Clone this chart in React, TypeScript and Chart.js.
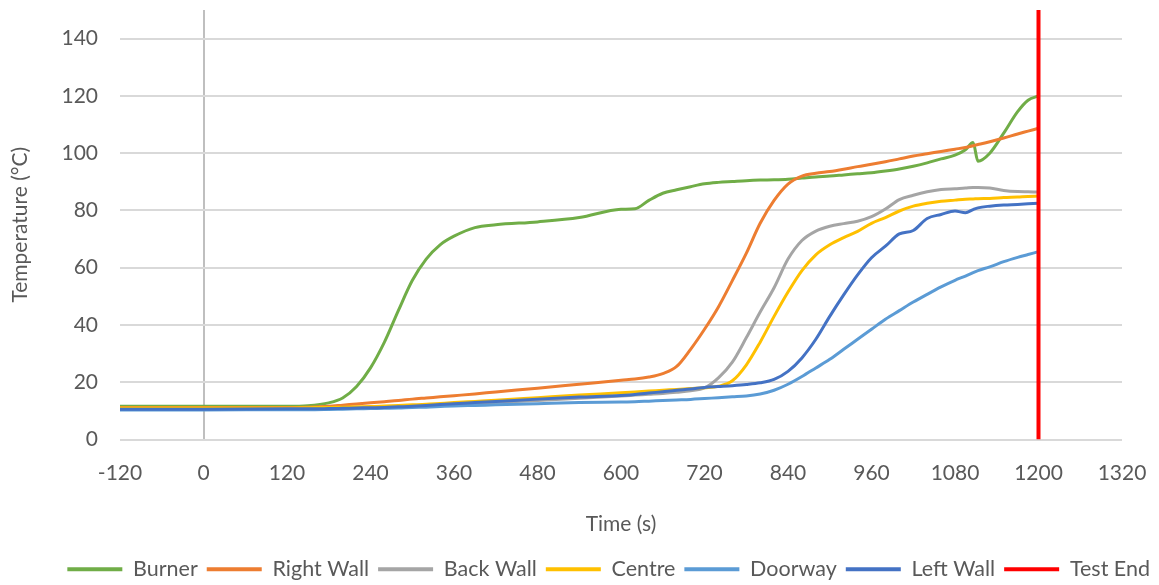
import React, { useEffect, useRef } from "react";
import { Chart, registerables } from "chart.js";

Chart.register(...registerables);

const time = [
  -120, 0, 120, 150, 180, 200, 220, 240, 260, 280, 300, 320, 340, 360, 390, 420, 480, 540, 600, 620,
  640, 660, 680, 700, 720, 740, 760, 780, 800, 820, 840, 860, 880, 900, 920, 940, 960, 980, 1000, 1020,
  1040, 1060, 1080, 1095, 1106, 1113, 1130, 1150, 1170, 1185, 1200,
];

const burner = [
  11.6, 11.6, 11.6, 11.8, 12.8, 14.5, 18.5, 25, 34, 45, 55.5, 63, 68, 71, 74, 75, 76, 77.5, 80.4, 80.6,
  83.5, 86, 87.2, 88.3, 89.3, 89.8, 90.1, 90.4, 90.6, 90.7, 90.9, 91.3, 91.7, 92, 92.4, 92.8, 93.2, 93.8, 94.5, 95.4,
  96.6, 98, 99.3, 101.2, 103.7, 97.2, 100, 107, 114.5, 118.5, 120,
];

const rightWall = [
  11.2, 11.2, 11.2, 11.3, 11.6, 12, 12.4, 12.8, 13.2, 13.6, 14.1, 14.5, 14.9, 15.3, 15.9, 16.6, 17.9, 19.3, 20.7, 21.1,
  21.8, 23, 25.5, 31.5, 38.5, 46.3, 55.5, 65, 75.5, 83.5, 89.2, 92, 93, 93.6, 94.4, 95.3, 96.1, 97, 98, 99,
  99.8, 100.6, 101.4, 102, 102.6, 103, 104, 105.3, 106.7, 107.7, 108.7,
];

const backWall = [
  10.8, 10.8, 10.8, 10.9, 11, 11, 11.1, 11.2, 11.3, 11.4, 11.6, 11.8, 12, 12.2, 12.5, 12.9, 13.6, 14.4, 15.2, 15.5,
  15.8, 16.1, 16.5, 17, 18, 21.5, 27, 35.5, 44.5, 53, 63, 69.5, 72.8, 74.5, 75.4, 76.2, 77.8, 80.5, 83.8, 85.3,
  86.5, 87.3, 87.6, 87.8, 88, 88, 87.8, 87, 86.6, 86.5, 86.4,
];

const centre = [
  11, 11, 11, 11.1, 11.2, 11.3, 11.4, 11.5, 11.7, 11.9, 12.1, 12.3, 12.6, 12.9, 13.3, 13.7, 14.6, 15.5, 16.3, 16.6,
  16.9, 17.2, 17.5, 17.8, 18.1, 18.6, 20.5, 26, 34, 43, 51.5, 59, 64.5, 68, 70.5, 72.7, 75.5, 77.5, 79.8, 81.5,
  82.5, 83.2, 83.6, 83.9, 84, 84.1, 84.2, 84.5, 84.7, 84.9, 85,
];

const doorway = [
  10.3, 10.3, 10.4, 10.4, 10.5, 10.6, 10.7, 10.8, 10.9, 11, 11.2, 11.3, 11.5, 11.7, 11.9, 12.1, 12.5, 12.9, 13.1, 13.2,
  13.4, 13.6, 13.8, 14, 14.3, 14.6, 14.9, 15.2, 15.9, 17.2, 19.3, 22, 25, 28, 31.5, 35, 38.5, 42, 45, 48,
  50.7, 53.3, 55.6, 57.1, 58.3, 59, 60.3, 62.1, 63.6, 64.6, 65.6,
];

const leftWall = [
  10.6, 10.6, 10.7, 10.7, 10.8, 10.9, 11, 11.1, 11.2, 11.4, 11.6, 11.9, 12.2, 12.5, 12.9, 13.3, 14.1, 14.8, 15.4, 15.7,
  16.2, 16.7, 17.2, 17.6, 18.2, 18.5, 18.8, 19.2, 19.8, 21, 23.8, 28.5, 35, 43, 50.5, 57.5, 63.5, 67.5, 71.8, 73,
  77.2, 78.6, 79.8, 79.2, 80.3, 80.9, 81.5, 81.9, 82.1, 82.3, 82.5,
];

const testEndTime = [1200, 1200];
const testEndTemp = [0, 150];

const seriesNames = ["Burner", "Right Wall", "Back Wall", "Centre", "Doorway", "Left Wall", "Test End"];
const seriesColors = ["#70AD47", "#ED7D31", "#A5A5A5", "#FFC000", "#5B9BD5", "#4472C4", "#FF0000"];

const xTicks = { min: -120, max: 1320, step: 120 };
const yTicks = { min: 0, max: 150, step: 20 };

const FONT = "Lato";
const TEXT = "#595959";

export default function App() {
  const ref = useRef<HTMLCanvasElement | null>(null);

  useEffect(() => {
    if (!ref.current) return;
    const seriesValues = [burner, rightWall, backWall, centre, doorway, leftWall];
    const datasets: any[] = seriesValues.map((vals, i) => ({
      label: seriesNames[i],
      data: time.map((t, j) => ({ x: t, y: vals[j] })),
      borderColor: seriesColors[i],
      backgroundColor: seriesColors[i],
      borderWidth: 3,
      pointRadius: 0,
      cubicInterpolationMode: "monotone",
      order: 10 - i,
    }));
    datasets.push({
      label: seriesNames[6],
      data: testEndTime.map((t, j) => ({ x: t, y: testEndTemp[j] })),
      borderColor: seriesColors[6],
      backgroundColor: seriesColors[6],
      borderWidth: 4,
      pointRadius: 0,
      order: 0,
    });

    const chart = new Chart(ref.current, {
      type: "line",
      data: { datasets },
      options: {
        animation: false,
        responsive: false,
        maintainAspectRatio: false,
        layout: { padding: { top: 10, right: 0, left: 0, bottom: -5 } },
        plugins: {
          tooltip: { enabled: false },
          legend: {
            position: "bottom",
            align: "end",
            labels: {
              boxWidth: 55,
              boxHeight: 4,
              padding: 9,
              color: TEXT,
              font: { family: FONT, size: 21.5 },
              sort: (a: any, b: any) => a.datasetIndex - b.datasetIndex,
              generateLabels: (c: any) =>
                Chart.defaults.plugins.legend.labels
                  .generateLabels(c)
                  .map((l: any) => ({ ...l, lineWidth: 0, fillStyle: seriesColors[l.datasetIndex] })),
            },
          },
        },
        scales: {
          x: {
            type: "linear",
            min: xTicks.min,
            max: xTicks.max,
            afterFit: (s: any) => {
              s.height = 110;
              s.paddingLeft = 0;
              s.paddingRight = 37;
            },
            ticks: {
              stepSize: xTicks.step,
              padding: 21,
              color: TEXT,
              font: { family: FONT, size: 21 },
              maxRotation: 0,
              callback: (v: any) => String(v),
            },
            grid: {
              drawTicks: false,
              lineWidth: 2,
              color: (ctx: any) => (ctx.tick && ctx.tick.value === 0 ? "#BFBFBF" : "rgba(0,0,0,0)"),
            },
            border: { display: false },
            title: {
              display: true,
              text: "Time (s)",
              color: TEXT,
              font: { family: FONT, size: 21 },
              padding: { top: 0, bottom: 13 },
            },
          },
          y: {
            type: "linear",
            min: yTicks.min,
            max: yTicks.max,
            afterFit: (s: any) => {
              s.width = 120;
              s.paddingTop = 0;
              s.paddingBottom = 0;
            },
            ticks: {
              stepSize: yTicks.step,
              includeBounds: false,
              padding: 22,
              color: TEXT,
              font: { family: FONT, size: 21 },
              callback: (v: any) => (v === 150 ? "" : String(v)),
            },
            grid: {
              drawTicks: false,
              lineWidth: 2,
              color: (ctx: any) => (ctx.tick && ctx.tick.value === 150 ? "rgba(0,0,0,0)" : "#D9D9D9"),
            },
            border: { display: false },
            title: {
              display: true,
              text: "Temperature (°C)",
              color: TEXT,
              font: { family: FONT, size: 21 },
              padding: { top: 8, bottom: 0 },
            },
          },
        },
      },
    });
    return () => chart.destroy();
  }, []);

  return (
    <div style={{ position: "absolute", left: 0, top: 0, width: 1159, height: 585, background: "#fff" }}>
      <canvas ref={ref} width={1159} height={585} />
    </div>
  );
}
